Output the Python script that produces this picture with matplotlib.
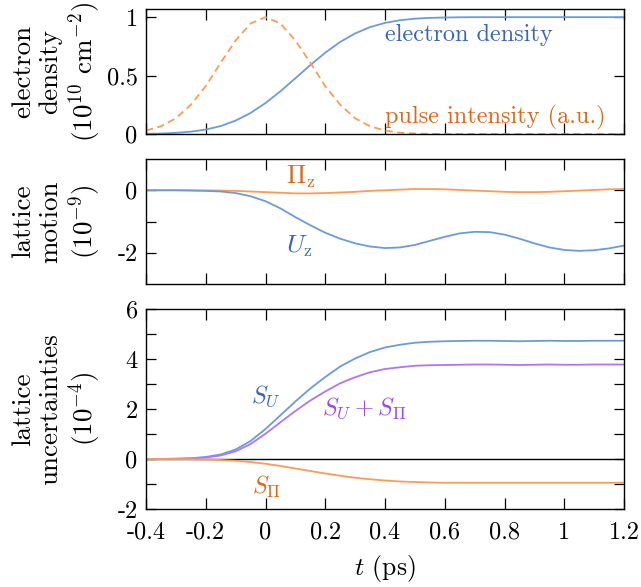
import numpy as np
import matplotlib
matplotlib.use("Agg")
import matplotlib.pyplot as plt

plt.rcParams['font.family'] = 'serif'
plt.rcParams['font.serif'] = ['cmr10']
plt.rcParams['mathtext.fontset'] = 'cm'
plt.rcParams['axes.formatter.use_mathtext'] = True
plt.rcParams['axes.unicode_minus'] = False
plt.rcParams['font.size'] = 17.5

# time axis (ps), read every 0.05 ps
t = [-0.40, -0.35, -0.30, -0.25, -0.20, -0.15, -0.10, -0.05, 0.00, 0.05,
     0.10, 0.15, 0.20, 0.25, 0.30, 0.35, 0.40, 0.45, 0.50, 0.55,
     0.60, 0.65, 0.70, 0.75, 0.80, 0.85, 0.90, 0.95, 1.00, 1.05,
     1.10, 1.15, 1.20]

# panel 1
density = [0.002, 0.004, 0.010, 0.020, 0.038, 0.068, 0.115, 0.180, 0.265, 0.366,
           0.477, 0.590, 0.696, 0.788, 0.861, 0.915, 0.951, 0.974, 0.987, 0.994,
           0.997, 0.999, 1.0, 1.0, 1.0, 1.0, 1.0, 1.0, 1.0, 1.0,
           1.0, 1.0, 1.0]
pulse = [0.030, 0.066, 0.135, 0.250, 0.410, 0.610, 0.800, 0.946, 1.000, 0.946,
         0.800, 0.610, 0.410, 0.250, 0.135, 0.066, 0.030, 0.011, 0.004, 0.001,
         0.0, 0.0, 0.0, 0.0, 0.0, 0.0, 0.0, 0.0, 0.0, 0.0,
         0.0, 0.0, 0.0]

# panel 2 (1e-9)
Pi_z = [0.0, 0.0, 0.0, -0.002, -0.005, -0.01, -0.02, -0.04, -0.06, -0.08,
        -0.10, -0.10, -0.09, -0.07, -0.05, -0.02, 0.0, 0.02, 0.04, 0.04,
        0.03, 0.01, -0.01, -0.03, -0.05, -0.06, -0.06, -0.05, -0.03, -0.01,
        0.01, 0.03, 0.04]
U_z = [0.0, 0.0, 0.0, -0.01, -0.02, -0.04, -0.09, -0.19, -0.35, -0.58,
       -0.86, -1.12, -1.36, -1.55, -1.70, -1.80, -1.85, -1.83, -1.75, -1.62,
       -1.49, -1.38, -1.33, -1.34, -1.42, -1.55, -1.70, -1.83, -1.91, -1.94,
       -1.92, -1.86, -1.77]

# panel 3 (1e-4)
S_U = [0.0, 0.0, 0.01, 0.03, 0.08, 0.18, 0.38, 0.72, 1.20, 1.75,
       2.30, 2.82, 3.28, 3.70, 4.02, 4.28, 4.46, 4.57, 4.65, 4.69,
       4.71, 4.72, 4.73, 4.73, 4.72, 4.71, 4.72, 4.73, 4.72, 4.72,
       4.73, 4.73, 4.73]
S_Pi = [0.0, 0.0, 0.0, -0.01, -0.02, -0.04, -0.07, -0.12, -0.19, -0.28,
        -0.38, -0.48, -0.58, -0.67, -0.75, -0.81, -0.86, -0.90, -0.92, -0.94,
        -0.95, -0.95, -0.95, -0.95, -0.95, -0.95, -0.95, -0.95, -0.95, -0.95,
        -0.95, -0.95, -0.95]
S_sum = list(np.array(S_U) + np.array(S_Pi))

xticks = [-0.4, -0.2, 0, 0.2, 0.4, 0.6, 0.8, 1.0, 1.2]
xticklabels = ['-0.4', '-0.2', '0', '0.2', '0.4', '0.6', '0.8', '1', '1.2']

blue = '#6b9bde'
orange = '#ff9a55'
purple = '#b274f6'
blue_txt = '#3a66b4'
orange_txt = '#e0661a'
purple_txt = '#9a4cf0'

fig = plt.figure(figsize=(6.41, 5.87), dpi=100)
ax1 = fig.add_axes([0.2278, 0.7717, 0.7457, 0.2130])
ax2 = fig.add_axes([0.2278, 0.5162, 0.7457, 0.2129])
ax3 = fig.add_axes([0.2278, 0.1329, 0.7457, 0.3407])

for ax in (ax1, ax2, ax3):
    ax.set_xlim(-0.4, 1.2)
    ax.set_xticks(xticks)
    ax.tick_params(axis='both', which='both', direction='in', top=True, right=True)
    ax.tick_params(axis='x', length=8, width=0.9, pad=9)
    ax.tick_params(axis='y', which='both', length=7, width=0.9, pad=6)
    for s in ax.spines.values():
        s.set_linewidth(1.0)

ax1.set_xticklabels([])
ax2.set_xticklabels([])
ax3.set_xticklabels(xticklabels)

lab = dict(fontsize=19.5, linespacing=1.17)
ann = 17.5
mth = 18.5

# panel 1
ax1.plot(t, density, color=blue, lw=1.3)
ax1.plot(t, pulse, color=orange, lw=1.3, dashes=(4, 2.5))
ax1.set_ylim(0, 1.07)
ax1.set_yticks([0, 0.5, 1])
ax1.set_yticklabels(['0', '0.5', '1'])
ax1.text(0.4, 0.85, 'electron density', color=blue_txt, va='center', ha='left', fontsize=ann)
ax1.text(0.4, 0.145, 'pulse intensity (a.u.)', color=orange_txt, va='center', ha='left', fontsize=ann)
ax1.set_ylabel('electron\ndensity\n(10$^{10}$ cm$^{-2}$)', **lab)

# panel 2
ax2.plot(t, Pi_z, color=orange, lw=1.3)
ax2.plot(t, U_z, color=blue, lw=1.3)
ax2.set_ylim(-3, 1)
ax2.set_yticks([-2, -1, 0])
ax2.set_yticklabels(['-2', '', '0'])
ax2.text(0.07, 0.43, r'$\Pi_{\mathrm{z}}$', color=orange_txt, va='center', ha='left', fontsize=mth)
ax2.text(0.07, -1.8, r'$U_{\mathrm{z}}$', color=blue_txt, va='center', ha='left', fontsize=mth)
ax2.set_ylabel('lattice\nmotion\n(10$^{-9}$)', **lab)

# panel 3
ax3.axhline(0, color='black', lw=1.0)
ax3.plot(t, S_U, color=blue, lw=1.3)
ax3.plot(t, S_sum, color=purple, lw=1.3)
ax3.plot(t, S_Pi, color=orange, lw=1.3)
ax3.set_ylim(-2, 6)
ax3.set_yticks([-2, 0, 2, 4, 6])
ax3.set_yticklabels(['-2', '0', '2', '4', '6'])
ax3.set_yticks([-1, 1, 3, 5], minor=True)
ax3.text(-0.047, 2.5, r'$S_U$', color=blue_txt, va='center', ha='left', fontsize=ann)
ax3.text(0.188, 2.04, r'$S_U + S_\Pi$', color=purple_txt, va='center', ha='left', fontsize=ann)
ax3.text(-0.045, -1.1, r'$S_\Pi$', color=orange_txt, va='center', ha='left', fontsize=ann)
ax3.set_ylabel('lattice\nuncertainties\n(10$^{-4}$)', **lab)
ax3.set_xlabel('$t$ (ps)', fontsize=18.5, labelpad=7)

for ax in (ax1, ax2, ax3):
    ax.yaxis.set_label_coords(-0.09, 0.5)

fig.savefig('out.png', dpi=100)
